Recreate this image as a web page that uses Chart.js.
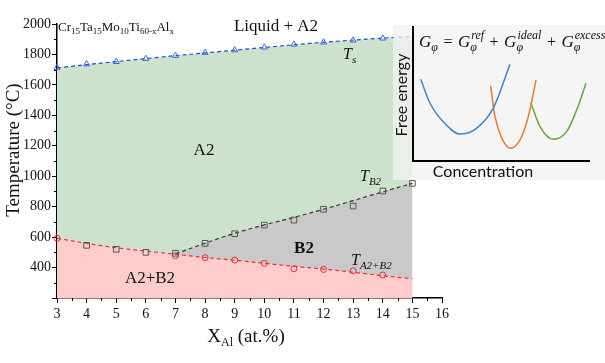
<!DOCTYPE html>
<html>
<head>
<meta charset="utf-8">
<script src="https://cdn.jsdelivr.net/npm/chart.js@4.4.1/dist/chart.umd.min.js"></script>
<style>
  body { margin: 0; background: #fff; }
  #wrap { position: relative; width: 605px; height: 363px; }
  #main { position: absolute; left: 0; top: 0; }
  #inset { position: absolute; left: 393px; top: 25px; }
</style>
</head>
<body>
<div id="wrap">
  <canvas id="main" width="605" height="363"></canvas>
  <canvas id="inset" width="212" height="155"></canvas>
</div>
<script>
// 相図データ
const xTicks = [3, 4, 5, 6, 7, 8, 9, 10, 11, 12, 13, 14, 15, 16];
const yTicks = [200, 400, 600, 800, 1000, 1200, 1400, 1600, 1800, 2000];

// T_s（固相線）
const tsX = [3, 4, 5, 6, 7, 8, 9, 10, 11, 12, 13, 14];
const tsY = [1713, 1737, 1752, 1772, 1792, 1812, 1829, 1847, 1866, 1880, 1893, 1906];
const tsFitX = [3, 6, 9, 12, 15];
const tsFitY = [1712, 1773, 1828, 1880, 1920];

// T_B2
const b2X = [4, 5, 6, 7, 8, 9, 10, 11, 12, 13, 14, 15];
const b2Y = [546, 520, 500, 494, 559, 622, 679, 712, 783, 804, 903, 953];
const b2FitX = [7, 8, 9, 10, 11, 12, 13, 14, 15];
const b2FitY = [490, 560, 625, 680, 730, 783, 840, 897, 953];

// T_A2+B2
const abX = [3, 7, 8, 9, 10, 11, 12, 13, 14];
const abY = [592, 478, 465, 449, 428, 392, 388, 379, 351];
const abFitX = [3, 4, 5, 6, 7, 8, 9, 10, 11, 12, 13, 14, 15];
const abFitY = [592, 559, 530, 508, 487, 466, 448, 428, 408, 390, 369, 346, 327];

// インセットの自由エネルギー曲線（模式図）
const blueX = [0.44, 0.97, 1.72, 2.67, 3.61, 4.56, 5.51];
const blueY = [6.10, 4.31, 2.93, 2.01, 2.44, 3.94, 7.21];
const orangeX = [4.41, 4.66, 5.05, 5.55, 6.08, 6.55, 6.99];
const orangeY = [5.60, 3.31, 1.69, 0.95, 1.57, 3.31, 6.04];
const greenX = [6.69, 7.22, 7.97, 8.73, 9.30, 9.83];
const greenY = [4.35, 2.56, 1.62, 2.19, 3.81, 5.80];

const pts = (xs, ys) => xs.map((x, i) => ({ x: x, y: ys[i] }));

const SERIF = '"Liberation Serif", "Times New Roman", serif';

// 下付き・上付きを含む文字列を描く
function drawRich(ctx, x, y, parts, align) {
  let w = 0;
  parts.forEach((p) => { ctx.font = p[1]; w += ctx.measureText(p[0]).width; });
  let cx = align === 'center' ? x - w / 2 : x;
  parts.forEach((p) => {
    ctx.font = p[1];
    ctx.fillText(p[0], cx, y + (p[2] || 0));
    cx += ctx.measureText(p[0]).width;
  });
}

const labelPlugin = {
  id: 'labels',
  afterDraw(chart) {
    const ctx = chart.ctx;
    const xs = chart.scales.x;
    const ys = chart.scales.y;
    ctx.save();
    ctx.strokeStyle = '#000';
    ctx.lineWidth = 1;
    // 副目盛り
    ctx.beginPath();
    for (let v = 300; v < 2000; v += 200) {
      const py = Math.round(ys.getPixelForValue(v)) + 0.5;
      ctx.moveTo(chart.chartArea.left - 3, py);
      ctx.lineTo(chart.chartArea.left, py);
    }
    for (let v = 3.5; v < 16; v += 1) {
      const px = Math.round(xs.getPixelForValue(v)) + 0.5;
      ctx.moveTo(px, chart.chartArea.bottom);
      ctx.lineTo(px, chart.chartArea.bottom + 3);
    }
    ctx.stroke();

    ctx.fillStyle = '#111';
    ctx.textBaseline = 'alphabetic';
    ctx.textAlign = 'left';
    const f = (size, style) => (style || '') + ' ' + size + 'px ' + SERIF;

    drawRich(ctx, 58, 31, [
      ['Cr', f(13)], ['15', f(9), 3], ['Ta', f(13)], ['15', f(9), 3],
      ['Mo', f(13)], ['10', f(9), 3], ['Ti', f(13)], ['60-x', f(9), 3],
      ['Al', f(13)], ['x', f(9), 3]
    ]);
    drawRich(ctx, 276, 31, [['Liquid + A2', f(17)]], 'center');
    drawRich(ctx, 204, 155, [['A2', f(17)]], 'center');
    drawRich(ctx, 304, 253, [['B2', f(17, 'bold')]], 'center');
    drawRich(ctx, 150, 283, [['A2+B2', f(17)]], 'center');

    drawRich(ctx, 343, 59, [['T', f(16, 'italic')], ['s', f(11, 'italic'), 4]]);
    drawRich(ctx, 360, 181, [['T', f(16, 'italic')], ['B2', f(11, 'italic'), 4]]);
    drawRich(ctx, 351, 265, [['T', f(16, 'italic')], ['A2+B2', f(11, 'italic'), 4]]);

    drawRich(ctx, 246, 342, [['X', f(19)], ['Al', f(12), 4], [' (at.%)', f(19)]], 'center');

    ctx.translate(19, 150);
    ctx.rotate(-Math.PI / 2);
    drawRich(ctx, 0, 0, [['Temperature (°C)', f(19)]], 'center');
    ctx.restore();
  }
};

new Chart(document.getElementById('main'), {
  type: 'line',
  data: {
    datasets: [
      {
        data: pts(tsX, tsY), showLine: false, order: 0, clip: false,
        pointStyle: 'triangle', pointRadius: 3.5, borderWidth: 1,
        borderColor: '#3a6ee0', backgroundColor: 'rgba(255,255,255,0)'
      },
      {
        data: pts(b2X, b2Y), showLine: false, order: 0, clip: false,
        pointStyle: 'rect', pointRadius: 4, borderWidth: 1,
        borderColor: '#555', backgroundColor: 'rgba(255,255,255,0)'
      },
      {
        data: pts(abX, abY), showLine: false, order: 0, clip: false,
        pointStyle: 'circle', pointRadius: 3, borderWidth: 1,
        borderColor: '#e8303a', backgroundColor: 'rgba(255,255,255,0)'
      },
      {
        data: pts(abFitX, abFitY), order: 1, tension: 0.4, pointRadius: 0,
        borderColor: '#e8303a', borderWidth: 1.2, borderDash: [4, 3],
        fill: 'start', backgroundColor: '#ffcccc'
      },
      {
        data: pts(b2FitX, b2FitY), order: 2, tension: 0.4, pointRadius: 0,
        borderColor: '#333', borderWidth: 1.2, borderDash: [4, 3],
        fill: 'start', backgroundColor: '#c9c9c9'
      },
      {
        data: pts(tsFitX, tsFitY), order: 3, tension: 0.4, pointRadius: 0,
        borderColor: '#2a45d8', borderWidth: 1.2, borderDash: [4, 3],
        fill: 'start', backgroundColor: '#cde2cc'
      }
    ]
  },
  options: {
    responsive: false,
    animation: false,
    devicePixelRatio: 1,
    layout: { padding: { left: 0, right: 163, top: 24, bottom: 0 } },
    plugins: { legend: { display: false }, tooltip: { enabled: false } },
    scales: {
      x: {
        type: 'linear', min: 3, max: 16,
        afterBuildTicks: (s) => { s.ticks = xTicks.map((v) => ({ value: v })); },
        afterFit: (s) => { s.height = 65; },
        grid: { display: true, drawOnChartArea: false, drawTicks: true, tickLength: 5, color: '#000' },
        border: { display: true, color: '#000', width: 1.5 },
        ticks: { color: '#111', padding: 3, font: { family: SERIF, size: 14 } }
      },
      y: {
        min: 200, max: 2000,
        afterBuildTicks: (s) => { s.ticks = yTicks.map((v) => ({ value: v })); },
        afterFit: (s) => { s.width = 57; },
        grid: { display: true, drawOnChartArea: false, drawTicks: true, tickLength: 5, color: '#000' },
        border: { display: true, color: '#000', width: 1.5 },
        ticks: {
          color: '#111', padding: 1, font: { family: SERIF, size: 14 },
          callback: (v) => (v === 200 ? '' : v)
        }
      }
    }
  },
  plugins: [labelPlugin]
});

// インセット
const insetPlugin = {
  id: 'insetText',
  beforeDraw(chart) {
    const ctx = chart.ctx;
    ctx.save();
    ctx.fillStyle = 'rgba(242,242,242,0.78)';
    ctx.fillRect(0, 0, chart.width, chart.height);
    ctx.restore();
  },
  afterDraw(chart) {
    const ctx = chart.ctx;
    ctx.save();
    ctx.fillStyle = '#111';
    ctx.textBaseline = 'alphabetic';
    const SANS = 'Lato, "Noto Sans", sans-serif';
    ctx.font = '16px ' + SANS;
    ctx.textAlign = 'center';
    ctx.fillText('Concentration', 90, 152);
    ctx.save();
    ctx.translate(14, 70);
    ctx.rotate(-Math.PI / 2);
    ctx.fillText('Free energy', 0, 0);
    ctx.restore();

    // G_φ = G_φ^ref + G_φ^ideal + G_φ^excess
    ctx.textAlign = 'left';
    const big = 'italic 17px ' + SERIF;
    const small = 'italic 12px ' + SERIF;
    const up = '16px ' + SERIF;
    let x = 26;
    const y = 22;
    const G = (sup) => {
      ctx.font = big; ctx.fillText('G', x, y); x += ctx.measureText('G').width;
      ctx.font = small; ctx.fillText('φ', x, y + 4);
      let w = ctx.measureText('φ').width;
      if (sup) { ctx.fillText(sup, x + 1, y - 8); w = Math.max(w, ctx.measureText(sup).width + 1); }
      x += w;
    };
    const op = (s) => { ctx.font = up; x += 1.5; ctx.fillText(s, x, y); x += ctx.measureText(s).width + 1.5; };
    G(''); op(' = '); G('ref'); op(' + '); G('ideal'); op(' + '); G('excess');
    ctx.restore();
  }
};

new Chart(document.getElementById('inset'), {
  type: 'line',
  data: {
    datasets: [
      { data: pts(blueX, blueY), borderColor: '#3f86c8', borderWidth: 1.5, pointRadius: 0, cubicInterpolationMode: 'monotone' },
      { data: pts(orangeX, orangeY), borderColor: '#ec7a2c', borderWidth: 1.5, pointRadius: 0, cubicInterpolationMode: 'monotone' },
      { data: pts(greenX, greenY), borderColor: '#6aa63e', borderWidth: 1.5, pointRadius: 0, cubicInterpolationMode: 'monotone' }
    ]
  },
  options: {
    responsive: false,
    animation: false,
    devicePixelRatio: 1,
    layout: { padding: { left: 0, right: 16, top: 2, bottom: 0 } },
    plugins: { legend: { display: false }, tooltip: { enabled: false } },
    scales: {
      x: {
        type: 'linear', min: 0, max: 10,
        afterFit: (s) => { s.height = 19; },
        grid: { display: false },
        ticks: { display: false },
        border: { display: true, color: '#000', width: 2 }
      },
      y: {
        min: 0, max: 10,
        afterFit: (s) => { s.width = 20; },
        grid: { display: false },
        ticks: { display: false },
        border: { display: true, color: '#000', width: 2 }
      }
    }
  },
  plugins: [insetPlugin]
});
</script>
</body>
</html>
